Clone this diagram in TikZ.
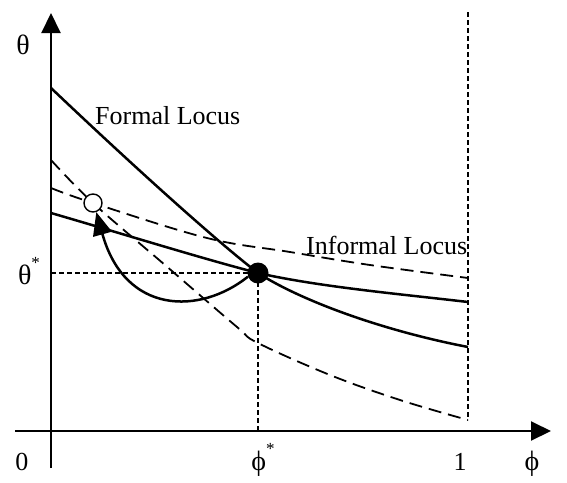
\documentclass[tikz,border=0pt]{standalone}
\usepackage{fontspec}
\setmainfont{Liberation Serif}
\usetikzlibrary{arrows.meta}
\newcommand{\mystar}{\raisebox{0.55em}{\fontsize{17}{17}\selectfont *}}
\begin{document}
\begin{tikzpicture}[x=1pt,y=-1pt,
  axis/.style={line width=2pt,-{Triangle[length=20pt,width=19pt]}},
  curve/.style={line width=2.5pt},
  dcurve/.style={line width=1.8pt,dash pattern=on 13pt off 7pt},
  guide/.style={line width=1.1pt,dash pattern=on 5pt off 3pt},
  lbl/.style={font=\fontsize{26}{29}\selectfont,inner sep=0pt},
  glbl/.style={font=\fontsize{28}{30}\selectfont,inner sep=0pt}]
\useasboundingbox (0,0) rectangle (567,482);
% axes
\coordinate (xs) at (15,431); \coordinate (xe) at (551,431);
\coordinate (ys) at (51,468); \coordinate (ye) at (51,13);
\draw[axis] (xs) -- (xe);
\draw[axis] (ys) -- (ye);
% guides
\coordinate (vt) at (468,12); \coordinate (vb) at (468,420);
\draw[guide] (vt) -- (vb);
\coordinate (eqx) at (258,431); \coordinate (eqy) at (51,273);
\draw[guide] (eqy) -- (258,273) -- (eqx);
% curves
\coordinate (fa) at (51,88); \coordinate (fb) at (468,347);
\draw[curve] (fa) .. controls (130,163) and (215,240) .. (258,273)
  .. controls (300,300) and (380,330) .. (fb);
\coordinate (sa) at (51,213); \coordinate (sb) at (468,302);
\draw[curve] (sa) .. controls (120,233) and (200,258) .. (258,273)
  .. controls (320,287) and (400,294) .. (sb);
\draw[dcurve] plot[smooth,tension=0.6] coordinates {(51,188) (93,203) (207,238) (290,252) (370,265) (468,278)};
\draw[dcurve] plot[smooth,tension=0.6] coordinates {(51,160) (93,203) (165,265) (237,327) (258,343) (330,375) (400,400) (468,420)};
% points
\node[circle,fill,inner sep=0pt,minimum size=21pt] (eq) at (258,273) {};
\node[circle,draw,fill=white,line width=1.4pt,inner sep=0pt,minimum size=18pt] (ini) at (93,203) {};
% path arrow
\draw[line width=2.5pt,-{Triangle[length=23pt,width=19pt]}] (eq.200) .. controls (200,315) and (125,315) .. (ini.-70);
% labels
\node[lbl,anchor=base west] (fl) at (95,124) {Formal Locus};
\node[lbl,anchor=base west] (il) at (306,254) {Informal Locus};
\node[glbl] (th) at (23,45) {θ};
\node[glbl] (ths) at (29,271) {θ\mystar};
\node[lbl] (zero) at (22,462) {0};
\node[glbl] (phs) at (263,460) {ϕ\mystar};
\node[lbl] (one) at (460,462) {1};
\node[glbl] (ph) at (532,464) {ϕ};
\end{tikzpicture}
\end{document}
